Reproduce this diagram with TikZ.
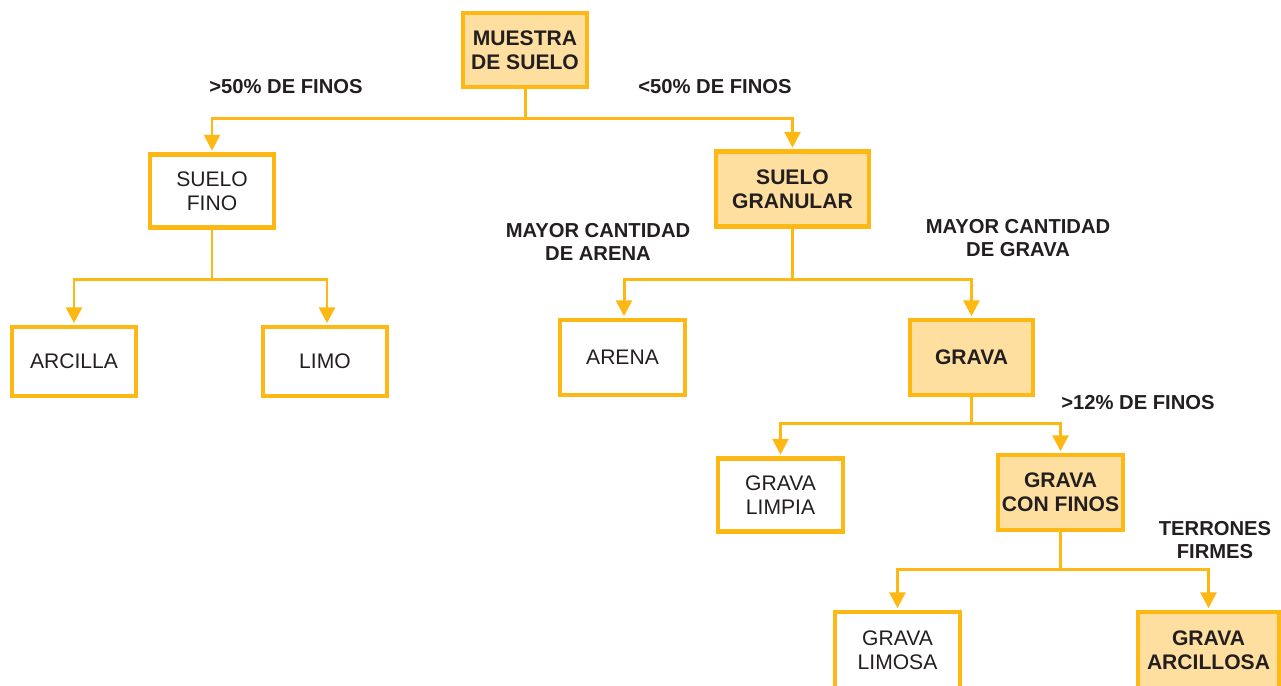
\documentclass[tikz,border=0pt]{standalone}
\usepackage{fontspec}
\setmainfont{Liberation Sans}
\usetikzlibrary{arrows.meta}
\definecolor{ambar}{RGB}{253,184,19}
\definecolor{crema}{RGB}{254,223,160}
\definecolor{tinta}{RGB}{35,31,32}
\tikzset{
  caja/.style={draw=ambar, line width=2.3pt, text=tinta, align=center,
    minimum width=2.48cm, minimum height=1.48cm, inner sep=0pt,
    font=\fontsize{12}{13.5}\selectfont},
  clave/.style={caja, fill=crema, font=\fontsize{12}{13.5}\selectfont\bfseries},
  rotulo/.style={text=tinta, align=center, inner sep=0pt,
    font=\fontsize{11.5}{13.5}\selectfont\bfseries},
  flecha/.style={draw=ambar, line width=1.7pt, -{Triangle[length=9pt,width=9pt]}, shorten >=1pt}
}
\begin{document}
\begin{tikzpicture}[x=0.02cm, y=-0.02cm]
		\useasboundingbox (0,0) rectangle (1281,686);
		\clip (0,0) rectangle (1281,686);
		% cajas
		\node[clave] (muestra) at (525,50) {MUESTRA\\DE SUELO};
		\node[caja, minimum height=1.46cm] (fino) at (212,191) {SUELO\\FINO};
		\node[clave, minimum width=3.06cm, minimum height=1.5cm] (granular) at (792.5,189) {SUELO\\GRANULAR};
		\node[caja, minimum height=1.38cm] (arcilla) at (74,361.5) {ARCILLA};
		\node[caja, minimum height=1.38cm] (limo) at (325,361.5) {LIMO};
		\node[caja, minimum width=2.5cm, minimum height=1.5cm] (arena) at (622.5,357.5) {ARENA};
		\node[clave, minimum width=2.46cm, minimum height=1.5cm] (grava) at (971.5,357.5) {GRAVA};
		\node[caja, minimum width=2.5cm, minimum height=1.46cm] (limpia) at (780.5,495) {GRAVA\\LIMPIA};
		\node[clave, minimum width=2.5cm, minimum height=1.5cm] (confinos) at (1060.5,492.5) {GRAVA\\CON FINOS};
		\node[caja, minimum width=2.5cm, minimum height=1.72cm, text depth=5.7pt] (limosa) at (897.5,655) {GRAVA\\LIMOSA};
		\node[clave, minimum width=2.82cm, minimum height=1.72cm, text depth=5.7pt] (arcillosa) at (1208.5,655) {GRAVA\\ARCILLOSA};
		% rotulos
		\node[rotulo] (masfinos) at (286,87) {>50\% DE FINOS};
		\node[rotulo] (menosfinos) at (715,87) {<50\% DE FINOS};
		\node[rotulo] (masarena) at (598,242) {MAYOR CANTIDAD\\DE ARENA};
		\node[rotulo] (masgrava) at (1018,238) {MAYOR CANTIDAD\\DE GRAVA};
		\node[rotulo] (doce) at (1138,403) {>12\% DE FINOS};
		\node[rotulo] (terrones) at (1215,540) {TERRONES\\FIRMES};
		% conectores
		\draw[flecha] (muestra.south) -- ++(0,29) coordinate (b1) -| (fino.north);
		\draw[flecha] (b1) -| (granular.north);
		\draw[flecha] (fino.south) -- ++(0,50) coordinate (b2) -| (arcilla.north);
		\draw[flecha] (b2) -| ([xshift=0.04cm]limo.north);
		\draw[flecha] (granular.south) -- ++(0,51) coordinate (b3) -| ([xshift=0.03cm]arena.north);
		\draw[flecha] (b3) -| (grava.north);
		\draw[flecha] (grava.south) -- ++(0,26) coordinate (b4) -| (limpia.north);
		\draw[flecha] (b4) -| (confinos.north);
		\draw[flecha] (confinos.south) -- ++(0,37) coordinate (b5) -| (limosa.north);
		\draw[flecha] (b5) -| (arcillosa.north);
\end{tikzpicture}
\end{document}
